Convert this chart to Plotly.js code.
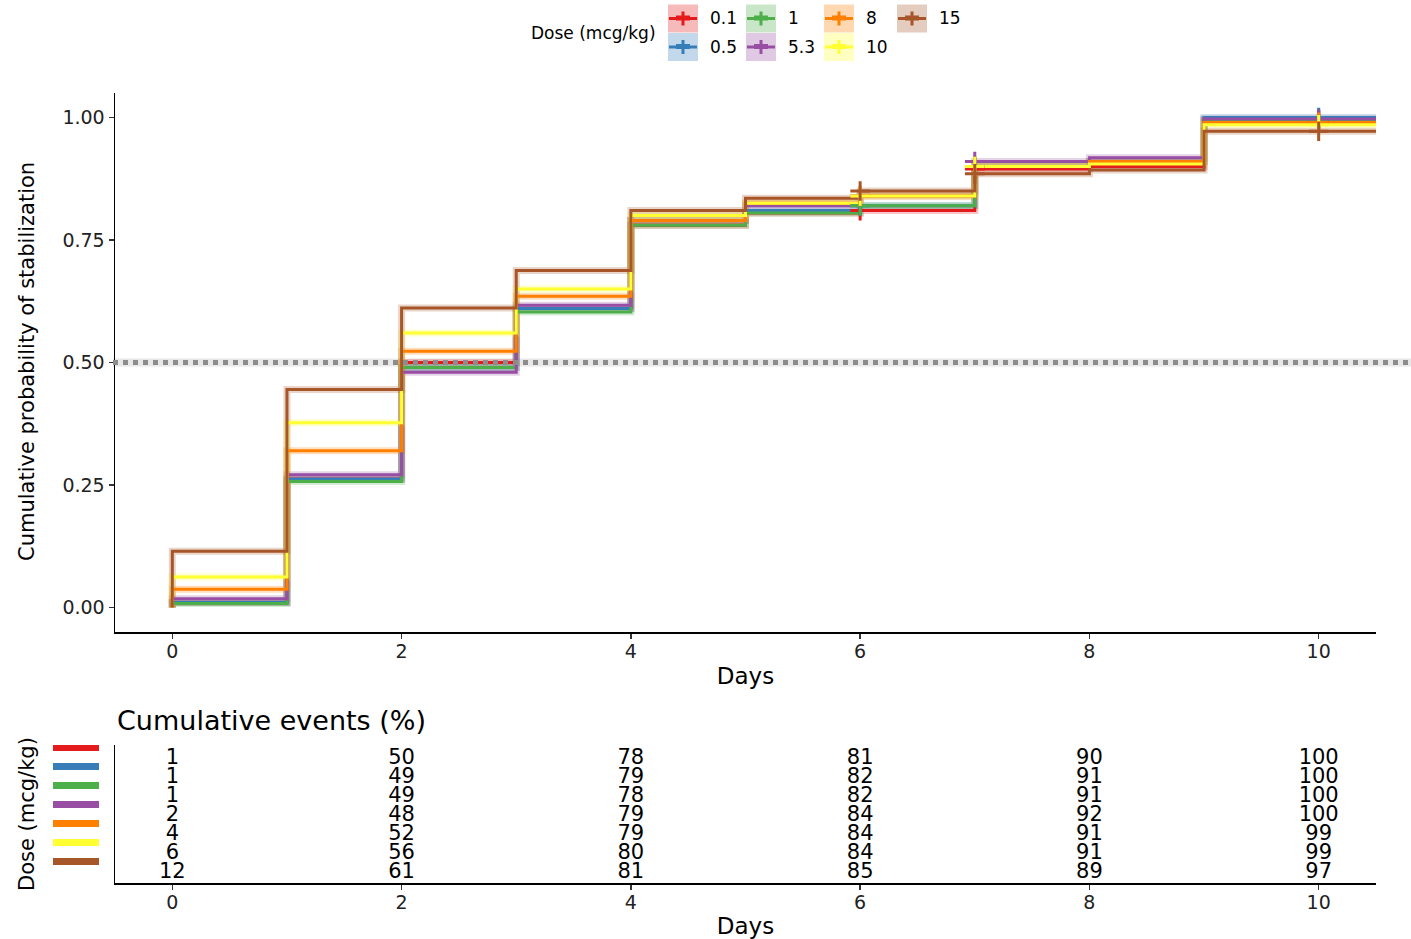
<!DOCTYPE html>
<html>
<head>
<meta charset="utf-8">
<script src="https://cdn.plot.ly/plotly-3.0.1.min.js"></script>
<style>html,body{margin:0;padding:0;background:#fff;}#chart{width:1411px;height:939px;}</style>
</head>
<body>
<div id="chart"></div>
<script>
// ---------- DATA ----------
const doses = ["0.1", "0.5", "1", "5.3", "8", "10", "15"];
const colors = ["#E41A1C", "#377EB8", "#4DAF4A", "#984EA3", "#FF7F00", "#FFFF33", "#A65628"];
const stepTimes = [0, 1, 2, 3, 4, 5, 6, 7, 8, 9];
const endTime = 10.5;
const probRed    = [0.010, 0.262, 0.500, 0.610, 0.780, 0.805, 0.810, 0.895, 0.900, 0.995];
const probBlue   = [0.010, 0.262, 0.490, 0.610, 0.790, 0.810, 0.820, 0.900, 0.910, 1.000];
const probGreen  = [0.008, 0.257, 0.490, 0.603, 0.780, 0.805, 0.820, 0.900, 0.910, 0.995];
const probPurple = [0.018, 0.271, 0.480, 0.617, 0.790, 0.820, 0.840, 0.910, 0.918, 0.997];
const probOrange = [0.037, 0.320, 0.523, 0.635, 0.790, 0.825, 0.840, 0.900, 0.910, 0.990];
const probYellow = [0.062, 0.377, 0.560, 0.650, 0.800, 0.825, 0.840, 0.900, 0.905, 0.985];
const probBrown  = [0.115, 0.445, 0.611, 0.688, 0.810, 0.835, 0.850, 0.885, 0.893, 0.972];
const censorTimes = [6, 7, 10];
const tableDays = [0, 2, 4, 6, 8, 10];
const evRed    = [1, 50, 78, 81, 90, 100];
const evBlue   = [1, 49, 79, 82, 91, 100];
const evGreen  = [1, 49, 78, 82, 91, 100];
const evPurple = [2, 48, 79, 84, 92, 100];
const evOrange = [4, 52, 79, 84, 91, 99];
const evYellow = [6, 56, 80, 84, 91, 99];
const evBrown  = [12, 61, 81, 85, 89, 97];
const xTicks = [0, 2, 4, 6, 8, 10];
const yTicks = [0, 0.25, 0.5, 0.75, 1.0];

const probs = [probRed, probBlue, probGreen, probPurple, probOrange, probYellow, probBrown];
const events = [evRed, evBlue, evGreen, evPurple, evOrange, evYellow, evBrown];

// ---------- helpers ----------
const W = 1411, H = 939, ML = 115, MR = 35, MT = 93, MB = 56;
const PW = W - ML - MR, PH = H - MT - MB;
const px = x => (x - ML) / PW;
const py = y => (H - MB - y) / PH;
const FONT = "DejaVu Sans, Verdana, sans-serif";
function rgba(hex, a) {
  const n = parseInt(hex.slice(1), 16);
  return `rgba(${(n >> 16) & 255},${(n >> 8) & 255},${n & 255},${a})`;
}
function stepValue(p, t) {
  let v = 0;
  for (let i = 0; i < stepTimes.length; i++) if (stepTimes[i] <= t) v = p[i];
  return v;
}

const traces = [];
// confidence ribbons (light underlay)
probs.forEach((p, i) => {
  traces.push({
    x: [0].concat(stepTimes, [endTime]), y: [0].concat(p, [p[p.length - 1]]),
    type: "scatter", mode: "lines", line: {shape: "hv", color: rgba(colors[i], 0.25), width: 7},
    xaxis: "x", yaxis: "y", hoverinfo: "skip", showlegend: false
  });
});
// lines
probs.forEach((p, i) => {
  traces.push({
    x: [0].concat(stepTimes, [endTime]), y: [0].concat(p, [p[p.length - 1]]),
    type: "scatter", mode: "lines", line: {shape: "hv", color: colors[i], width: 3},
    name: doses[i], xaxis: "x", yaxis: "y", showlegend: false
  });
});
// censor marks
probs.forEach((p, i) => {
  traces.push({
    x: censorTimes, y: censorTimes.map(t => stepValue(p, t)),
    type: "scatter", mode: "markers",
    marker: {symbol: "cross-thin", size: 14, line: {color: colors[i], width: 3}},
    xaxis: "x", yaxis: "y", showlegend: false, hoverinfo: "skip"
  });
});
// risk table
events.forEach((ev, i) => {
  const row = 7 - i;
  traces.push({
    x: tableDays, y: tableDays.map(() => row), text: ev.map(String),
    type: "scatter", mode: "text", textposition: "middle center",
    textfont: {family: FONT, size: 21, color: "#000"},
    xaxis: "x2", yaxis: "y2", showlegend: false, hoverinfo: "skip"
  });
});

const shapes = [];
// 0.5 reference line
shapes.push({type: "line", xref: "paper", yref: "y", x0: px(113), x1: px(W), y0: 0.5, y1: 0.5,
  line: {color: "rgba(128,128,128,0.18)", width: 8}, layer: "below"});
shapes.push({type: "line", xref: "paper", yref: "y", x0: px(113), x1: px(W), y0: 0.5, y1: 0.5,
  line: {color: "#8c8c8c", width: 5, dash: "dot"}});
// table colour keys
colors.forEach((c, i) => {
  const row = 7 - i + 0.6;
  shapes.push({type: "rect", xref: "paper", yref: "y2", x0: px(53), x1: px(99),
    y0: row - 0.18, y1: row + 0.18, fillcolor: c, line: {width: 0}});
});
// manual legend
const legCols = [668, 746, 824, 897];
const legRows = [4.5, 33];
const annotations = [];
doses.forEach((d, i) => {
  const col = Math.floor(i / 2), r = i % 2;
  const bx = legCols[col], by = legRows[r];
  const cx = bx + 15, cy = by + 14;
  shapes.push({type: "rect", xref: "paper", yref: "paper", x0: px(bx), x1: px(bx + 30),
    y0: py(by), y1: py(by + 28), fillcolor: rgba(colors[i], 0.3), line: {width: 0}});
  shapes.push({type: "line", xref: "paper", yref: "paper", x0: px(bx + 1), x1: px(bx + 29),
    y0: py(cy), y1: py(cy), line: {color: colors[i], width: 3}});
  shapes.push({type: "line", xref: "paper", yref: "paper", x0: px(cx - 7), x1: px(cx + 7),
    y0: py(cy - 0.5), y1: py(cy - 0.5), line: {color: colors[i], width: 5}});
  shapes.push({type: "line", xref: "paper", yref: "paper", x0: px(cx), x1: px(cx),
    y0: py(cy - 7), y1: py(cy + 7), line: {color: colors[i], width: 3}});
  annotations.push({xref: "paper", yref: "paper", x: px(bx + 40), y: py(cy), xanchor: "left", yanchor: "middle",
    text: d, showarrow: false, font: {family: FONT, size: 17, color: "#000"}});
});
annotations.push({xref: "paper", yref: "paper", x: px(658), y: py(33), xanchor: "right", yanchor: "middle",
  text: "Dose (mcg/kg)", showarrow: false, font: {family: FONT, size: 17, color: "#000"}});
annotations.push({xref: "paper", yref: "paper", x: px(27), y: py(362), xanchor: "center", yanchor: "middle",
  textangle: -90, text: "Cumulative probability of stabilization", showarrow: false,
  font: {family: FONT, size: 21, color: "#000"}});
annotations.push({xref: "paper", yref: "paper", x: px(27), y: py(814), xanchor: "center", yanchor: "middle",
  textangle: -90, text: "Dose (mcg/kg)", showarrow: false,
  font: {family: FONT, size: 21, color: "#000"}});
annotations.push({xref: "paper", yref: "paper", x: 0, y: py(720), xanchor: "left", yanchor: "middle",
  text: "Cumulative events (%)", showarrow: false,
  font: {family: FONT, size: 27, color: "#000"}});

const axisCommon = {
  showline: true, linecolor: "#000", linewidth: 1.5, showgrid: false, zeroline: false,
  ticks: "outside", ticklen: 5, tickwidth: 1.5, tickcolor: "#333",
  tickfont: {family: FONT, size: 19, color: "#222"}
};

const layout = {
  width: W, height: H,
  margin: {l: ML, r: MR, t: MT, b: MB, pad: 0},
  paper_bgcolor: "#fff", plot_bgcolor: "#fff",
  showlegend: false,
  font: {family: FONT},
  xaxis: Object.assign({}, axisCommon, {
    domain: [0, 1], anchor: "y", range: [-0.5, 10.5], tickvals: xTicks,
    ticklabelstandoff: -3,
    title: {text: "Days", font: {family: FONT, size: 23, color: "#000"}, standoff: 6}
  }),
  yaxis: Object.assign({}, axisCommon, {
    domain: [py(632), 1], anchor: "x", range: [-0.05, 1.05], tickvals: yTicks,
    tickformat: ".2f"
  }),
  xaxis2: Object.assign({}, axisCommon, {
    domain: [0, 1], anchor: "y2", range: [-0.5, 10.5], tickvals: xTicks,
    ticklabelstandoff: -3,
    title: {text: "Days", font: {family: FONT, size: 23, color: "#000"}, standoff: 5}
  }),
  yaxis2: {
    domain: [0, py(745)], anchor: "x2", range: [0.47, 7.73],
    showline: true, linecolor: "#000", linewidth: 1.5, showgrid: false, zeroline: false,
    showticklabels: false, ticks: ""
  },
  shapes: shapes,
  annotations: annotations
};

Plotly.newPlot("chart", traces, layout, {displayModeBar: false, staticPlot: true});
</script>
</body>
</html>
